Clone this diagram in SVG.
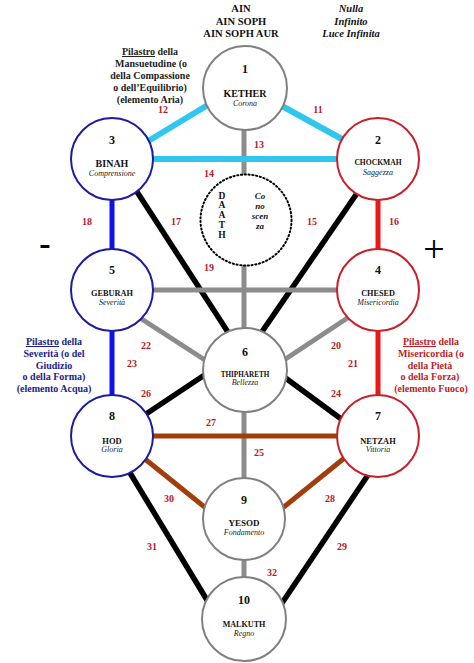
<svg xmlns="http://www.w3.org/2000/svg" width="474" height="663" viewBox="0 0 474 663">
<style>
.bg{fill:#fff}
.c{fill:#fff;stroke-width:2}
.g{stroke:#808080}
.b{stroke:#1c1c9c}
.r{stroke:#c8202a}
.cy{stroke:#30c6ee;stroke-width:6}
.gl{stroke:#8c8c8c;stroke-width:5}
.bk{stroke:#000;stroke-width:5.5}
.bl{stroke:#1010ee;stroke-width:5}
.rd{stroke:#ee1515;stroke-width:5}
.br{stroke:#a23e0c;stroke-width:5}
text{font-family:"Liberation Serif","Times New Roman",serif}
.num{font-size:12px;font-weight:bold;text-anchor:middle;fill:#111}
.nm{font-weight:bold;text-anchor:middle;fill:#111}
.sub{font-size:8px;font-style:italic;text-anchor:middle;fill:#222}
.pl{font-size:10px;font-weight:bold;fill:#b5202a;text-anchor:middle}
.hd{font-size:10.5px;font-weight:bold;text-anchor:middle;fill:#111}
.pil{font-size:10px;font-weight:bold;text-anchor:middle}
</style>
<rect class="bg" x="0" y="0" width="474" height="663"/>
<g id="connectors">
  <line class="gl" x1="244" y1="110" x2="244" y2="600"/>
  <line class="cy" x1="140" y1="146" x2="216" y2="100"/>
  <line class="cy" x1="272" y1="100.5" x2="350" y2="143.5"/>
  <line class="cy" x1="145" y1="159" x2="345" y2="159"/>
  <line class="bk" x1="130" y1="181" x2="235" y2="343"/>
  <line class="bk" x1="362" y1="186" x2="255" y2="342"/>
  <line class="bl" x1="112" y1="190" x2="112" y2="260"/>
  <line class="rd" x1="378" y1="190" x2="378" y2="260"/>
  <line class="gl" x1="145" y1="290" x2="345" y2="290"/>
  <line class="gl" x1="130" y1="311.5" x2="215" y2="366.5"/>
  <line class="gl" x1="355" y1="313" x2="275" y2="366"/>
  <line class="bl" x1="112" y1="320" x2="112" y2="405"/>
  <line class="rd" x1="378" y1="320" x2="378" y2="405"/>
  <line class="bk" x1="140" y1="418" x2="212" y2="370"/>
  <line class="bk" x1="276" y1="371" x2="348" y2="424"/>
  <line class="br" x1="145" y1="436" x2="345" y2="436"/>
  <line class="br" x1="140" y1="455" x2="212" y2="513"/>
  <line class="br" x1="350" y1="453.5" x2="274" y2="515"/>
  <line class="bk" x1="124" y1="463" x2="213" y2="610"/>
  <line class="bk" x1="372" y1="469" x2="276" y2="612"/>
  <text class="pl" x="163" y="113">12</text>
  <text class="pl" x="318" y="113">11</text>
  <text class="pl" x="259" y="148">13</text>
  <text class="pl" x="209" y="177">14</text>
  <text class="pl" x="176" y="225">17</text>
  <text class="pl" x="312" y="225">15</text>
  <text class="pl" x="87" y="225">18</text>
  <text class="pl" x="394" y="225">16</text>
  <text class="pl" x="209" y="271">19</text>
  <text class="pl" x="146" y="349">22</text>
  <text class="pl" x="132" y="367">23</text>
  <text class="pl" x="146" y="397">26</text>
  <text class="pl" x="211" y="426">27</text>
  <text class="pl" x="336" y="349">20</text>
  <text class="pl" x="353" y="367">21</text>
  <text class="pl" x="336" y="397">24</text>
  <text class="pl" x="259" y="456">25</text>
  <text class="pl" x="169" y="502">30</text>
  <text class="pl" x="152" y="550">31</text>
  <text class="pl" x="330" y="502">28</text>
  <text class="pl" x="342" y="550">29</text>
  <text class="pl" x="272" y="576">32</text>
</g>
<g id="header">
  <text class="hd" x="241" y="12">AIN</text>
  <text class="hd" x="241" y="24.5">AIN SOPH</text>
  <text class="hd" x="241" y="37">AIN SOPH AUR</text>
  <text class="hd" x="351" y="12" font-style="italic">Nulla</text>
  <text class="hd" x="351" y="24.5" font-style="italic">Infinito</text>
  <text class="hd" x="351" y="37" font-style="italic">Luce Infinita</text>
</g>
<g id="pillar-middle" fill="#222">
  <text class="pil" x="150" y="55"><tspan text-decoration="underline">Pilastro</tspan> della</text>
  <text class="pil" x="151" y="67">Mansuetudine (o</text>
  <text class="pil" x="150" y="79">della Compassione</text>
  <text class="pil" x="150" y="91">o dell’Equilibrio)</text>
  <text class="pil" x="150" y="103">(elemento Aria)</text>
</g>
<g id="pillar-left" fill="#1c1c8c">
  <text class="pil" x="54" y="345"><tspan text-decoration="underline">Pilastro</tspan> della</text>
  <text class="pil" x="54" y="357">Severità (o del</text>
  <text class="pil" x="54" y="368.5">Giudizio</text>
  <text class="pil" x="54" y="380">o della Forma)</text>
  <text class="pil" x="54" y="392">(elemento Acqua)</text>
</g>
<g id="pillar-right" fill="#c01e28">
  <text class="pil" x="431" y="345"><tspan text-decoration="underline">Pilastro</tspan> della</text>
  <text class="pil" x="431" y="357">Misericordia  (o</text>
  <text class="pil" x="430" y="368.5">della Pietà</text>
  <text class="pil" x="430" y="380">o della Forza)</text>
  <text class="pil" x="431" y="392">(elemento Fuoco)</text>
</g>
<text x="45" y="255" font-size="34" font-weight="bold" text-anchor="middle" fill="#000">-</text>
<text x="434" y="262" font-size="38" text-anchor="middle" fill="#000">+</text>
<g id="n1"><circle class="c g" cx="245" cy="88" r="42"/><text class="num" x="245" y="73">1</text><text class="nm" x="245" y="97" font-size="10">KETHER</text><text class="sub" x="245" y="106" font-size="8.5">Corona</text></g>
<g id="n3"><circle class="c b" cx="112" cy="159" r="41"/><text class="num" x="112" y="144">3</text><text class="nm" x="112" y="167" font-size="10">BINAH</text><text class="sub" x="112" y="176">Comprensione</text></g>
<g id="n2"><circle class="c r" cx="378" cy="159" r="41"/><text class="num" x="378" y="144">2</text><text class="nm" x="378" y="165" font-size="7.6">CHOCKMAH</text><text class="sub" x="378" y="175">Saggezza</text></g>
<g id="daath"><circle cx="246" cy="220" r="45.5" fill="#fff" stroke="#000" stroke-width="2" stroke-dasharray="1.2 2.6" stroke-linecap="round"/>
  <g font-size="9.5" font-weight="bold" text-anchor="middle" fill="#111">
    <text x="222" y="198.5">D</text><text x="222" y="208">A</text><text x="222" y="217.5">A</text><text x="222" y="227.5">T</text><text x="222" y="238">H</text>
  </g>
  <g font-size="9" font-weight="bold" font-style="italic" text-anchor="middle" fill="#111">
    <text x="260" y="199">Co</text><text x="260" y="209">no</text><text x="260" y="219">scen</text><text x="260" y="228.5">za</text>
  </g>
</g>
<g id="n5"><circle class="c b" cx="112" cy="290" r="41"/><text class="num" x="112" y="274">5</text><text class="nm" x="112" y="296" font-size="8.3">GEBURAH</text><text class="sub" x="112" y="305">Severità</text></g>
<g id="n4"><circle class="c r" cx="378" cy="290" r="41"/><text class="num" x="378" y="274">4</text><text class="nm" x="378" y="296" font-size="8.2">CHESED</text><text class="sub" x="378" y="305">Misericordia</text></g>
<g id="n6"><circle class="c g" cx="245" cy="370" r="42"/><text class="num" x="245" y="356">6</text><text class="nm" x="245" y="377" font-size="7.2">THIPHARETH</text><text class="sub" x="245" y="385">Bellezza</text></g>
<g id="n8"><circle class="c b" cx="112" cy="436" r="41"/><text class="num" x="112" y="420">8</text><text class="nm" x="112" y="444" font-size="8.5">HOD</text><text class="sub" x="112" y="452">Gloria</text></g>
<g id="n7"><circle class="c r" cx="378" cy="436" r="41"/><text class="num" x="378" y="420">7</text><text class="nm" x="378" y="444" font-size="8.4">NETZAH</text><text class="sub" x="378" y="452">Vittoria</text></g>
<g id="n9"><circle class="c g" cx="244" cy="519" r="41"/><text class="num" x="244" y="504">9</text><text class="nm" x="244" y="526" font-size="9">YESOD</text><text class="sub" x="244" y="535">Fondamento</text></g>
<g id="n10"><circle class="c g" cx="244" cy="619" r="42"/><text class="num" x="244" y="604">10</text><text class="nm" x="244" y="627" font-size="8.1">MALKUTH</text><text class="sub" x="244" y="636">Regno</text></g>
</svg>
